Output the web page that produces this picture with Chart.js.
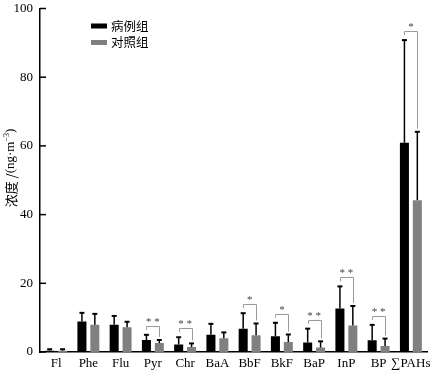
<!DOCTYPE html>
<html>
<head>
<meta charset="utf-8">
<script src="https://cdn.jsdelivr.net/npm/chart.js@4/dist/chart.umd.min.js"></script>
<style>
html,body{margin:0;padding:0;background:#fff;}
#wrap{width:437px;height:377px;position:relative;}
</style>
</head>
<body>
<div id="wrap"><canvas id="c" width="437" height="377"></canvas></div>
<script>
const categories = ['Fl','Phe','Flu','Pyr','Chr','BaA','BbF','BkF','BaP','InP','BP','∑PAHs'];
const seriesNames = ['病例组','对照组'];
const caseMeans = [0.4, 8.9, 7.9, 3.5, 2.2, 5.0, 6.8, 4.6, 2.8, 12.7, 3.4, 60.9];
const caseSD    = [0.4, 2.5, 2.6, 1.5, 2.1, 3.2, 4.5, 3.9, 4.0, 6.4, 4.5, 29.9];
const ctrlMeans = [0.4, 7.9, 7.2, 2.6, 1.45, 4.0, 4.9, 2.9, 1.3, 7.7, 1.75, 44.2];
const ctrlSD    = [0.4, 3.2, 1.6, 0.9, 1.05, 1.7, 3.4, 2.2, 1.8, 5.7, 2.15, 19.9];
const significance = ['', '', '', '**', '**', '', '*', '*', '**', '**', '**', '*'];
const yTicks = [0, 20, 40, 60, 80, 100];

const SERIF = '"Liberation Serif", "Times New Roman", serif';
const CJK = '"Noto Sans CJK SC", sans-serif';
const colors = ['#000000', '#808080'];
const sds = [caseSD, ctrlSD];
const means = [caseMeans, ctrlMeans];

const extras = {
  id: 'extras',
  afterDatasetsDraw(chart) {
    const ctx = chart.ctx;
    const ys = chart.scales.y;
    const xAxisLeft = ys.right;
    ctx.save();
    // error bars
    for (let d = 0; d < 2; d++) {
      const meta = chart.getDatasetMeta(d);
      meta.data.forEach((el, j) => {
        const top = ys.getPixelForValue(means[d][j] + sds[d][j]);
        ctx.strokeStyle = '#000';
        ctx.lineWidth = 1.5;
        ctx.beginPath();
        ctx.moveTo(el.x, el.y);
        ctx.lineTo(el.x, top);
        ctx.stroke();
        ctx.lineWidth = 2;
        ctx.beginPath();
        ctx.moveTo(el.x - 2.5, top);
        ctx.lineTo(el.x + 2.5, top);
        ctx.stroke();
      });
    }
    // significance brackets
    const m0 = chart.getDatasetMeta(0), m1 = chart.getDatasetMeta(1);
    significance.forEach((s, j) => {
      if (!s) return;
      const xb = m0.data[j].x, xg = m1.data[j].x;
      const yb = ys.getPixelForValue(caseMeans[j] + caseSD[j]);
      const yg = ys.getPixelForValue(ctrlMeans[j] + ctrlSD[j]);
      const ly = Math.round(yb - 9) + 0.5;
      ctx.strokeStyle = '#9a9a9a';
      ctx.lineWidth = 1;
      ctx.beginPath();
      ctx.moveTo(Math.round(xb) + 0.5, yb - 5);
      ctx.lineTo(Math.round(xb) + 0.5, ly);
      ctx.lineTo(Math.round(xg) + 0.5, ly);
      ctx.lineTo(Math.round(xg) + 0.5, yg - 3);
      ctx.stroke();
      ctx.fillStyle = '#444';
      ctx.font = '11px ' + SERIF;
      ctx.textAlign = 'center';
      ctx.textBaseline = 'middle';
      ctx.fillText(s.split('').join(' '), (xb + xg) / 2, ly - 4);
    });
    // inward y ticks
    ctx.strokeStyle = '#000';
    ctx.lineWidth = 1.5;
    yTicks.forEach(v => {
      const y = ys.getPixelForValue(v);
      ctx.beginPath();
      ctx.moveTo(xAxisLeft, y);
      ctx.lineTo(xAxisLeft + 6, y);
      ctx.stroke();
    });
    // legend
    const lg = [[91, 23.5], [91, 40]];
    lg.forEach((p, i) => {
      ctx.fillStyle = colors[i];
      ctx.fillRect(p[0], p[1], 16, 5);
      ctx.fillStyle = '#000';
      ctx.font = '12.5px ' + CJK;
      ctx.textAlign = 'left';
      ctx.textBaseline = 'middle';
      ctx.fillText(seriesNames[i], p[0] + 20, p[1] + 2.5);
    });
    // y title
    ctx.translate(11, 168);
    ctx.rotate(-Math.PI / 2);
    ctx.fillStyle = '#000';
    ctx.textBaseline = 'middle';
    ctx.textAlign = 'left';
    const parts = [
      {t: '浓度 /', f: '13px ' + CJK, dy: 0},
      {t: '(ng·m', f: '13px ' + SERIF, dy: 0},
      {t: '−3', f: '8px ' + SERIF, dy: -4},
      {t: ')', f: '13px ' + SERIF, dy: 0}
    ];
    let total = 0;
    parts.forEach(p => { ctx.font = p.f; p.w = ctx.measureText(p.t).width; total += p.w; });
    let x = -total / 2;
    parts.forEach(p => { ctx.font = p.f; ctx.fillText(p.t, x, p.dy); x += p.w; });
    ctx.restore();
  }
};

new Chart(document.getElementById('c'), {
  type: 'bar',
  data: {
    labels: categories,
    datasets: [
      {label: seriesNames[0], data: caseMeans, backgroundColor: colors[0]},
      {label: seriesNames[1], data: ctrlMeans, backgroundColor: colors[1]}
    ]
  },
  options: {
    responsive: false,
    animation: false,
    devicePixelRatio: 1,
    categoryPercentage: 0.8,
    barPercentage: 0.7,
    layout: {padding: {top: 8.5, right: 10, bottom: 0, left: 0}},
    plugins: {legend: {display: false}, tooltip: {enabled: false}},
    scales: {
      x: {
        grid: {display: false, drawTicks: false},
        border: {display: true, color: '#000', width: 1.5},
        ticks: {color: '#000', font: {family: SERIF, size: 13}, padding: 4, maxRotation: 0, autoSkip: false},
        afterFit(s) { s.height = 25; s.paddingLeft = 0; s.paddingRight = 0; }
      },
      y: {
        min: 0, max: 100,
        afterBuildTicks(s) { s.ticks = yTicks.map(v => ({value: v})); },
        grid: {display: false, drawTicks: false},
        border: {display: true, color: '#000', width: 1.5},
        ticks: {color: '#000', font: {family: SERIF, size: 13}, padding: 7},
        afterFit(s) { s.width = 40; s.paddingTop = 0; s.paddingBottom = 0; }
      }
    }
  },
  plugins: [extras]
});
</script>
</body>
</html>
